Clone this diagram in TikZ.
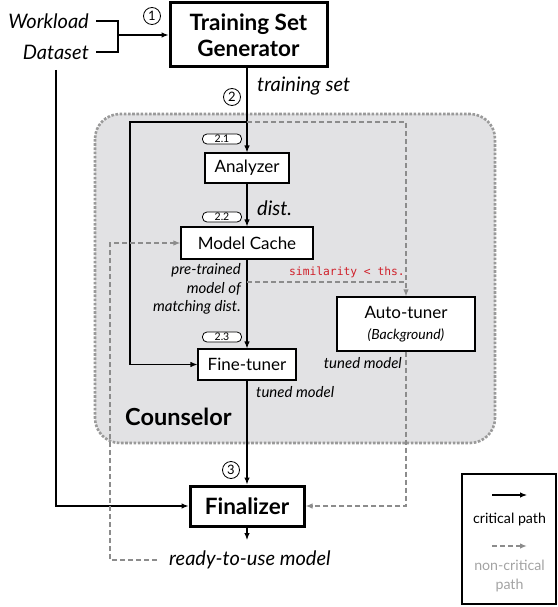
\documentclass[tikz,border=0pt]{standalone}
\usepackage{fontspec}
\setmainfont{Lato}
\newfontfamily\monofnt{DejaVu Sans Mono}
\usetikzlibrary{arrows.meta,calc}
\definecolor{ncgray}{HTML}{8C8C8C}
\definecolor{cbg}{HTML}{E2E2E4}
\definecolor{cborder}{HTML}{9A9A9A}
\definecolor{simred}{HTML}{D0202A}
\tikzset{
  fmid/.style={font={\fontsize{17}{20}\selectfont}},
  box/.style={draw, line width=1.1pt, fill=white, inner sep=0pt, fmid},
  bigbox/.style={draw, line width=3pt, fill=white, inner sep=0pt, align=center, font={\bfseries\fontsize{22.5}{26}\selectfont}},
  crit/.style={line width=1.1pt, -{Latex[length=7pt,width=5.5pt]}},
  critline/.style={line width=1.1pt},
  noncrit/.style={line width=1.4pt, ncgray, dash pattern=on 5pt off 3pt, -{Latex[length=7pt,width=5.5pt]}},
  noncritline/.style={line width=1.4pt, ncgray, dash pattern=on 5pt off 3pt},
  numcirc/.style={circle, draw, line width=0.8pt, minimum size=17pt, inner sep=0pt, font={\fontsize{13}{13}\selectfont}},
  pill/.style={draw, line width=0.8pt, rounded corners=4.5pt, minimum width=39pt, minimum height=10pt, inner sep=0pt, fill=white, font={\fontsize{10.5}{10.5}\selectfont}},
  itl/.style={font={\itshape\fontsize{20}{23}\selectfont}, inner sep=0pt},
  itls/.style={font={\itshape\fontsize{15}{18.5}\selectfont}, inner sep=0pt},
}
\begin{document}
\begin{tikzpicture}[x=1pt,y=-1pt]
\useasboundingbox (0,0) rectangle (557,607);
% Counselor background
\draw[fill=cbg, draw=cborder, line width=2.6pt, dash pattern=on 2.6pt off 1.6pt, rounded corners=25pt] (95,114) rectangle (495,443);
\node[anchor=west, inner sep=0pt, font={\bfseries\fontsize{23.5}{26}\selectfont}] (couns) at (125,417) {Counselor};

% inputs
\node[itl, anchor=east] (work) at (89,21) {Workload};
\node[itl, anchor=east] (data) at (89,52) {Dataset};
\node[bigbox, minimum width=157pt, minimum height=64pt] (tsg) at (248.5,35) {Training Set\\Generator};
\coordinate (bx) at (118,0);
\draw[critline] ([xshift=7pt]work.east) -| (bx |- data.east) -- ([xshift=7pt]data.east);
\draw[crit] (bx |- tsg.west) -- (tsg.west);
\node[numcirc] (c1) at (152,16) {1};

% main column
\node[box, minimum width=84pt, minimum height=30pt] (ana) at (247,168) {Analyzer};
\node[box, minimum width=132pt, minimum height=32pt] (mc) at (247,243) {Model Cache};
\node[box, minimum width=98pt, minimum height=31pt] (ft) at (247,364.5) {Fine-tuner};
\node[box, minimum width=138pt, minimum height=54pt, align=center] (at) at (406,324) {Auto-tuner\\[1pt]{\itshape\fontsize{14}{16}\selectfont(Background)}};
\node[bigbox, minimum width=114pt, minimum height=40pt] (fin) at (247,506) {Finalizer};

\draw[crit] (tsg.south -| ana.north) -- (ana.north);
\node[itl, anchor=west] (tset) at (257,86) {training set};
\node[numcirc] (c2) at (232,97) {2};

\coordinate (br) at (247,122);
\coordinate (lx) at (130,0);
\draw[crit] (br) -- (lx |- br) |- (ft.west);
\draw[noncrit] (br) -| (at.north);

\node[pill] (p21) at (222,139) {2.1};
\draw[crit] (ana.south) -- (mc.north);
\node[itl, anchor=west] (dist) at (257,208) {dist.};
\node[pill] (p22) at (222,217) {2.2};

\draw[crit] (mc.south) -- (ft.north);
\node[itls, anchor=east, align=right] (pre) at (241,289) {pre-trained\\model of\\matching dist.};
\coordinate (mcb) at (247,282);
\draw[noncritline] (mcb) -- (mcb -| at.north);
\node[anchor=south east, inner sep=0pt, text=simred, font={\monofnt\fontsize{11.3}{13}\selectfont}] (sim) at (405,278) {similarity < ths.};
\node[pill] (p23) at (222,337) {2.3};

\node[itls, anchor=east] (tm2) at (402,363) {tuned model};
\node[itls, anchor=west] (tm1) at (256,392) {tuned model};

\draw[crit] (ft.south) -- (fin.north);
\node[numcirc] (c3) at (231,470) {3};
\draw[noncrit] (at.south) |- (fin.east);

\coordinate (dsx) at (56,70);
\draw[crit] (dsx) |- (fin.west);

\coordinate (finout) at (247,540);
\draw[crit] (fin.south) -- (finout);
\node[itl, anchor=west] (ready) at (169,560) {ready-to-use model};
\coordinate (rx) at (110,0);
\draw[noncrit] ([xshift=-12pt]ready.west) -- (rx |- ready.west) |- (mc.west);

% legend
\draw[line width=1.1pt] (462,474) rectangle (556,604);
\coordinate (l1a) at (492,495);
\coordinate (l1b) at (527,495);
\draw[crit] (l1a) -- (l1b);
\node[inner sep=0pt, font={\fontsize{14.2}{16}\selectfont}] (lcp) at (509.5,519) {critical path};
\coordinate (l2a) at (492,546);
\coordinate (l2b) at (527,546);
\draw[noncrit] (l2a) -- (l2b);
\node[inner sep=0pt, align=center, text=ncgray!80, font={\fontsize{14.2}{19}\selectfont}] (lnc) at (509.5,576) {non-critical\\path};
\end{tikzpicture}
\end{document}
